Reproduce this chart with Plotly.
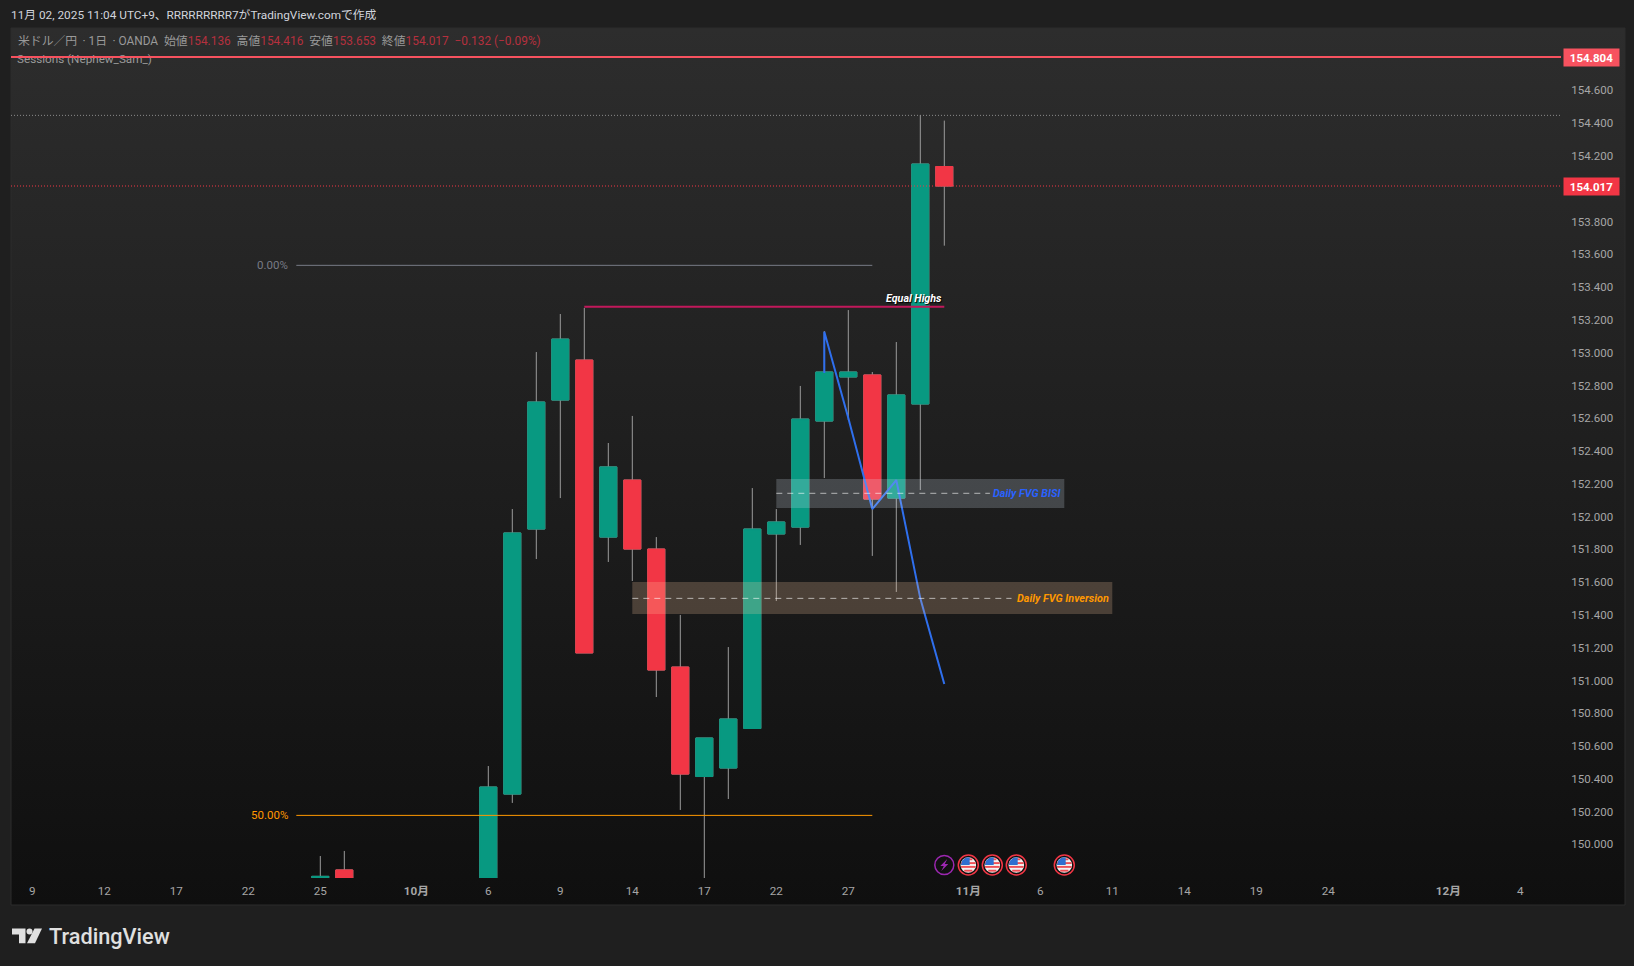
import math
import plotly.graph_objects as go

# ---- chart data ----
bar_index = [0, 1, 7, 8, 9, 10, 11, 12, 13, 14, 15, 16, 17, 18, 19, 20, 21, 22, 23, 24, 25, 26]
opens  = [149.797, 149.844, 149.550, 150.307, 151.924, 152.711, 152.955, 151.875, 152.223, 151.802, 151.082,
          150.414, 150.466, 150.707, 151.894, 151.936, 152.583, 152.852, 152.864, 152.113, 152.687, 154.136]
highs  = [149.929, 149.960, 150.478, 152.046, 153.004, 153.236, 153.273, 152.449, 152.614, 151.875, 151.400,
          150.649, 151.204, 152.174, 152.046, 152.797, 153.132, 153.260, 152.882, 153.065, 154.450, 154.416]
lows   = [149.790, 149.600, 149.500, 150.253, 151.741, 152.113, 151.168, 151.723, 151.607, 150.899, 150.210,
          149.780, 150.277, 150.707, 151.485, 151.827, 152.235, 152.589, 151.760, 151.540, 152.162, 153.653]
closes = [149.805, 149.600, 150.350, 151.900, 152.699, 153.083, 151.168, 152.303, 151.802, 151.064, 150.429,
          150.649, 150.765, 151.924, 151.967, 152.595, 152.882, 152.882, 152.107, 152.742, 154.151, 154.017]

price_ticks = [154.6, 154.4, 154.2, 153.8, 153.6, 153.4, 153.2, 153.0, 152.8, 152.6, 152.4, 152.2, 152.0,
               151.8, 151.6, 151.4, 151.2, 151.0, 150.8, 150.6, 150.4, 150.2, 150.0]
time_tick_index = [-12, -9, -6, -3, 0, 4, 7, 10, 13, 16, 19, 22, 27, 30, 33, 36, 39, 42, 47, 50]
time_tick_text = ["9", "12", "17", "22", "25", "<b>10月</b>", "6", "9", "14", "17", "22", "27", "<b>11月</b>",
                  "6", "11", "14", "19", "24", "<b>12月</b>", "4"]

last_price = 154.017
alert_price = 154.804
session_high = 154.448
fib_0 = 153.533
fib_50 = 150.177
equal_highs = 153.281
fvg_bisi = (152.052, 152.142, 152.229)
fvg_inv = (151.406, 151.501, 151.601)
path_index = [21, 21, 22, 23, 24, 25, 26]
path_price = [152.876, 153.128, 152.601, 152.046, 152.223, 151.501, 150.979]
flag_index = [27, 28, 29, 31]
bolt_index = 26

# ---- styles ----
GREEN, RED, WICK = "#089981", "#F23645", "#9b9b9b"
FONT = "Roboto, 'Noto Sans CJK JP', sans-serif"
W, H = 1634, 966
PX0, PX1, PY0, PY1 = 11, 1561, 28, 878      # price pane in page pixels
XMIN = (PX0 - 320.3) / 24
XMAX = (PX1 - 320.3) / 24
YMIN = last_price - (PY1 - 186) / 163.9
YMAX = last_price + (186 - PY0) / 163.9

fig = go.Figure()

# panel background with its vertical gradient (page-pixel axes)
fig.add_trace(go.Scatter(
    x=[11, 1625, 1625, 11, 11], y=[28, 28, 905, 905, 28], xaxis="x", yaxis="y",
    mode="lines", line=dict(color="#2c2c2c", width=1), fill="toself",
    fillgradient=dict(type="vertical", colorscale=[[0, "#0f0f0f"], [1, "#2d2d2d"]]),
    hoverinfo="skip", showlegend=False))
fig.add_trace(go.Scatter(
    x=[17], y=[60], xaxis="x", yaxis="y", mode="text", text=["Sessions (Nephew_Sam_)"],
    textposition="middle right", textfont=dict(family=FONT, size=11.7, color="#9a9a9a"),
    hoverinfo="skip", showlegend=False))

def hline(v, color, width, dash="solid", x0=XMIN, x1=XMAX):
    fig.add_trace(go.Scatter(x=[x0, x1], y=[v, v], xaxis="x2", yaxis="y2", mode="lines",
                             line=dict(color=color, width=width, dash=dash),
                             hoverinfo="skip", showlegend=False))

hline(session_high, "#8c8c8c", 1, "1px,2px")
hline(last_price, "#F23645", 1, "1px,2px")
hline(fib_0, "#787b86", 1, x0=-1, x1=23)
hline(fib_50, "#ff9800", 1, x0=-1, x1=23)

# wicks, then bodies
fig.add_trace(go.Candlestick(
    x=bar_index, open=opens, high=highs, low=lows, close=closes, xaxis="x2", yaxis="y2",
    increasing=dict(line=dict(color=WICK, width=1), fillcolor="rgba(0,0,0,0)"),
    decreasing=dict(line=dict(color=WICK, width=1), fillcolor="rgba(0,0,0,0)"),
    whiskerwidth=0, hoverinfo="skip", showlegend=False))
fig.add_trace(go.Candlestick(
    x=bar_index, open=opens, close=closes,
    high=[max(o, c) for o, c in zip(opens, closes)],
    low=[min(o, c) for o, c in zip(opens, closes)], xaxis="x2", yaxis="y2",
    increasing=dict(line=dict(color=GREEN, width=1), fillcolor=GREEN),
    decreasing=dict(line=dict(color=RED, width=1), fillcolor=RED),
    whiskerwidth=0, showlegend=False))

fig.add_trace(go.Scatter(x=path_index, y=path_price, xaxis="x2", yaxis="y2", mode="lines",
                         line=dict(color="#2f6fed", width=2), hoverinfo="skip", showlegend=False))
hline(equal_highs, "#c2185b", 2, x0=11, x1=26)
hline(alert_price, "#f7525f", 2)

shapes = []
annotations = []

# FVG zones
shapes += [
    dict(type="rect", xref="x2", yref="y2", x0=19, x1=31, y0=fvg_bisi[0], y1=fvg_bisi[2],
         fillcolor="rgba(225,240,255,0.2)", line_width=0, layer="above"),
    dict(type="line", xref="x2", yref="y2", x0=19, x1=27.9, y0=fvg_bisi[1], y1=fvg_bisi[1],
         line=dict(color="rgba(255,255,255,0.6)", width=1, dash="6px,5px"), layer="above"),
    dict(type="rect", xref="x2", yref="y2", x0=13, x1=33, y0=fvg_inv[0], y1=fvg_inv[2],
         fillcolor="rgba(255,205,165,0.22)", line_width=0, layer="above"),
    dict(type="line", xref="x2", yref="y2", x0=13, x1=28.8, y0=fvg_inv[1], y1=fvg_inv[1],
         line=dict(color="rgba(255,255,255,0.6)", width=1, dash="6px,5px"), layer="above"),
]

def note(x, y, text, color, size=12, xref="x", yref="y", xanchor="left", **font_extra):
    annotations.append(dict(x=x, y=y, xref=xref, yref=yref, text=text, showarrow=False, xanchor=xanchor,
                            yanchor="middle", borderpad=0,
                            font=dict(family=FONT, size=size, color=color, **font_extra)))

note(10, 15, "11月 02, 2025 11:04 UTC+9、RRRRRRRRR7がTradingView.comで作成", "#d1d4dc", 11.8)
R = "#b5303e"
legend = ("米ドル／円\u2009 · 1日\u2009 · OANDA  始値<span style='color:{r}'>154.136</span>  高値<span style='color:{r}'>154.416</span>"
          "  安値<span style='color:{r}'>153.653</span>  終値<span style='color:{r}'>154.017</span>"
          "  <span style='color:{r}'>−0.132 (−0.09%)</span>").format(r=R)
note(17, 41, legend, "#9a9a9a", 11.85)

note(288.5, fib_0, "0.00%", "#787b86", 11.5, yref="y2", xanchor="right")
note(288.5, fib_50, "50.00%", "#ff9800", 11.5, yref="y2", xanchor="right")
note(913.5, 298.7, "<b><i>Equal Highs</i></b>", "#ffffff", 10.7, xanchor="center", shadow="1px 1px 1px #000")
note(30.9, fvg_bisi[1], "<b><i>Daily FVG BISI</i></b>", "#2962ff", 10.8, xref="x2", yref="y2", xanchor="right")
note(32.92, fvg_inv[1], "<b><i>Daily FVG Inversion</i></b>", "#ff9800", 10.8, xref="x2", yref="y2", xanchor="right")

for v, c in [(alert_price, "#f7525f"), (last_price, "#F23645")]:
    annotations.append(dict(x=1591, y=v, xref="x", yref="y2", text="<b>%.3f</b>" % v, showarrow=False,
                            xanchor="center", yanchor="middle", width=55, height=17, bgcolor=c, borderpad=0,
                            font=dict(family=FONT, size=11.5, color="#ffffff")))

# calendar event icons
ICON_Y = 865
def cx(i):
    return 320.3 + 24 * i

def circle(x, y, r, **kw):
    return dict(type="circle", xref="x", yref="y", x0=x - r, x1=x + r, y0=y - r, y1=y + r, layer="above", **kw)

x = cx(bolt_index)
shapes.append(circle(x, ICON_Y, 9.5, line=dict(color="#9c27b0", width=1.5), fillcolor="rgba(0,0,0,0)"))
shapes.append(dict(type="path", xref="x", yref="y", layer="above", fillcolor="#9c27b0", line_width=0,
                   path=f"M{x+3},{ICON_Y-6} L{x-4},{ICON_Y+1} L{x-0.5},{ICON_Y+1} L{x-3},{ICON_Y+6} "
                        f"L{x+4},{ICON_Y-1} L{x+0.5},{ICON_Y-1} Z"))

for i in flag_index:
    x = cx(i)
    shapes.append(circle(x, ICON_Y, 10, line=dict(color="#F23645", width=1.5), fillcolor="#101010"))
    r = 7.8
    shapes.append(circle(x, ICON_Y, r, line_width=0, fillcolor="#f2f2f2"))
    for k in range(-3, 4, 2):
        y0, y1 = k * 1.9 - 0.95, k * 1.9 + 0.95
        ym = max(abs(y0), abs(y1))
        half = math.sqrt(max(r * r - ym * ym, 0))
        shapes.append(dict(type="rect", xref="x", yref="y", x0=x - half, x1=x + half,
                           y0=ICON_Y + y0, y1=ICON_Y + y1, fillcolor="#ef4f56", line_width=0, layer="above"))
    shapes.append(dict(type="path", xref="x", yref="y", layer="above", fillcolor="#2f6fd0", line_width=0,
                       path=f"M{x-7.4},{ICON_Y} L{x-6},{ICON_Y-4.6} L{x-2.8},{ICON_Y-7.2} L{x+1.4},{ICON_Y-7.7} "
                            f"L{x+1.4},{ICON_Y} Z"))

# TradingView logo
shapes += [
    dict(type="path", xref="x", yref="y", layer="above", fillcolor="#e0e0e0", line_width=0,
         path="M12,928.5 L25.5,928.5 L25.5,943.3 L19,943.3 L19,934.5 L12,934.5 Z"),
    dict(type="path", xref="x", yref="y", layer="above", fillcolor="#e0e0e0", line_width=0,
         path="M34.5,928.5 L42,928.5 L35,943.3 L27,943.3 Z"),
    dict(type="circle", xref="x", yref="y", layer="above", fillcolor="#e0e0e0", line_width=0,
         x0=26.5, x1=32.5, y0=928.5, y1=934.5),
]
note(48, 936, "TradingView", "#e0e0e0", 21.7, weight=500)

fig.update_layout(
    width=W, height=H, margin=dict(l=0, r=0, t=0, b=0, pad=0), autosize=False,
    paper_bgcolor="#1f1f1f", plot_bgcolor="rgba(0,0,0,0)", showlegend=False, dragmode=False,
    boxgap=0.29, boxgroupgap=0,
    xaxis=dict(domain=[0, 1], range=[0, W], visible=False, fixedrange=True),
    yaxis=dict(domain=[0, 1], range=[H, 0], visible=False, fixedrange=True),
    xaxis2=dict(domain=[PX0 / W, PX1 / W], anchor="y2", range=[XMIN, XMAX], fixedrange=True,
                tickmode="array", tickvals=time_tick_index, ticktext=time_tick_text,
                showgrid=False, zeroline=False, showline=False, ticks="outside", ticklen=2,
                tickcolor="rgba(0,0,0,0)", rangeslider=dict(visible=False),
                tickfont=dict(family=FONT, size=11.7, color="#a6a6a6")),
    yaxis2=dict(domain=[1 - PY1 / H, 1 - PY0 / H], anchor="x2", side="right", range=[YMIN, YMAX], fixedrange=True,
                tickmode="array", tickvals=price_ticks, ticktext=["%.3f" % t for t in price_ticks],
                showgrid=False, zeroline=False, showline=False, ticks="outside", ticklen=7,
                tickcolor="rgba(0,0,0,0)",
                tickfont=dict(family=FONT, size=11.5, color="#a6a6a6")),
    shapes=shapes, annotations=annotations,
)

fig.write_html("out.html", config=dict(displayModeBar=False),
               post_script="document.body.style.margin='0';document.body.style.overflow='hidden';")
